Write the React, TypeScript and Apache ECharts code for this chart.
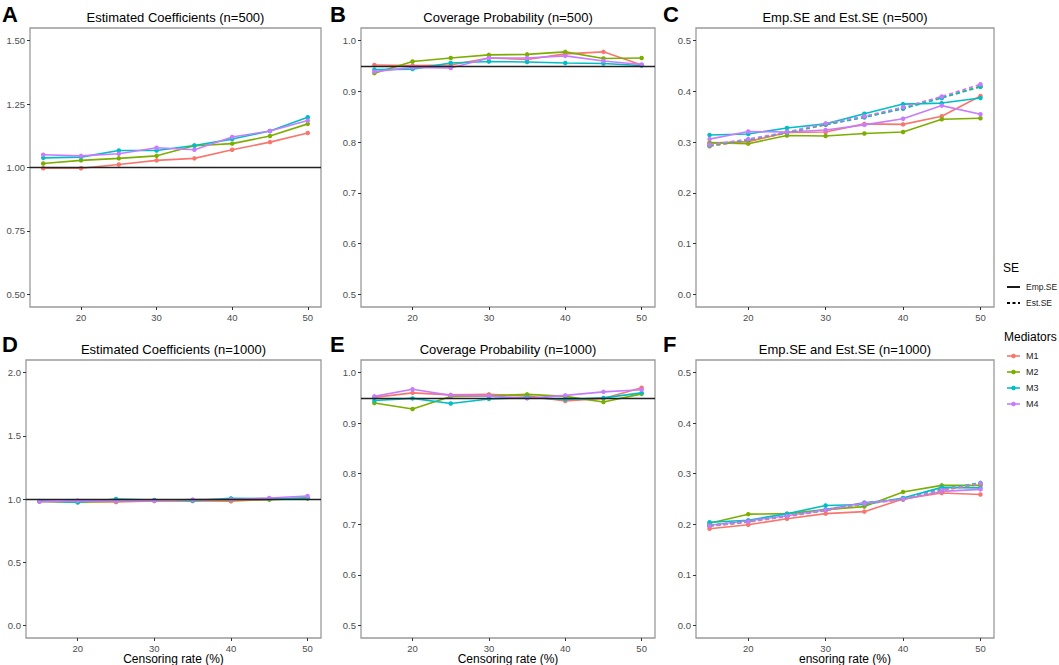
import React, { useEffect, useRef } from "react";
import * as echarts from "echarts";

// ---- data ----
const censoring = [15, 20, 25, 30, 35, 40, 45, 50];
const mediators = ["M1", "M2", "M3", "M4"];
const seTypes = ["Emp.SE", "Est.SE"];

// A: Estimated Coefficients (n=500)
const coefA_M1 = [0.997, 0.997, 1.012, 1.028, 1.036, 1.07, 1.1, 1.136];
const coefA_M2 = [1.016, 1.028, 1.036, 1.046, 1.086, 1.094, 1.124, 1.172];
const coefA_M3 = [1.038, 1.041, 1.067, 1.067, 1.087, 1.112, 1.144, 1.198];
const coefA_M4 = [1.05, 1.046, 1.054, 1.078, 1.07, 1.12, 1.144, 1.185];

// B: Coverage Probability (n=500)
const covB_M1 = [0.952, 0.951, 0.952, 0.966, 0.963, 0.974, 0.978, 0.952];
const covB_M2 = [0.936, 0.959, 0.966, 0.972, 0.973, 0.978, 0.965, 0.966];
const covB_M3 = [0.943, 0.944, 0.956, 0.959, 0.958, 0.956, 0.955, 0.951];
const covB_M4 = [0.939, 0.947, 0.946, 0.966, 0.966, 0.97, 0.96, 0.953];

// C: Emp.SE and Est.SE (n=500)
const empC_M1 = [0.298, 0.301, 0.319, 0.32, 0.336, 0.335, 0.351, 0.391];
const empC_M2 = [0.299, 0.297, 0.313, 0.312, 0.317, 0.32, 0.345, 0.347];
const empC_M3 = [0.314, 0.316, 0.328, 0.336, 0.356, 0.375, 0.377, 0.387];
const empC_M4 = [0.306, 0.321, 0.32, 0.324, 0.334, 0.346, 0.372, 0.355];
const estC_M1 = [0.292, 0.303, 0.318, 0.334, 0.349, 0.366, 0.388, 0.41];
const estC_M2 = [0.293, 0.304, 0.319, 0.335, 0.35, 0.367, 0.388, 0.41];
const estC_M3 = [0.294, 0.305, 0.319, 0.335, 0.349, 0.366, 0.387, 0.409];
const estC_M4 = [0.295, 0.306, 0.32, 0.337, 0.351, 0.369, 0.39, 0.414];

// D: Estimated Coefficients (n=1000)
const coefD_M1 = [0.979, 0.979, 0.976, 0.984, 0.984, 0.982, 0.997, 1.005];
const coefD_M2 = [0.982, 0.974, 0.982, 0.987, 0.989, 0.992, 0.995, 1.005];
const coefD_M3 = [0.984, 0.974, 1.0, 0.992, 0.987, 1.005, 1.003, 1.008];
const coefD_M4 = [0.979, 0.987, 0.984, 0.987, 0.995, 0.997, 1.008, 1.024];

// E: Coverage Probability (n=1000)
const covE_M1 = [0.951, 0.96, 0.956, 0.957, 0.954, 0.944, 0.949, 0.97];
const covE_M2 = [0.94, 0.928, 0.953, 0.954, 0.957, 0.953, 0.942, 0.958];
const covE_M3 = [0.945, 0.949, 0.939, 0.948, 0.951, 0.947, 0.95, 0.96];
const covE_M4 = [0.953, 0.967, 0.955, 0.954, 0.949, 0.955, 0.962, 0.966];

// F: Emp.SE and Est.SE (n=1000)
const empF_M1 = [0.191, 0.199, 0.211, 0.221, 0.225, 0.25, 0.262, 0.259];
const empF_M2 = [0.202, 0.22, 0.221, 0.229, 0.235, 0.264, 0.277, 0.277];
const empF_M3 = [0.204, 0.208, 0.221, 0.237, 0.239, 0.252, 0.273, 0.272];
const empF_M4 = [0.198, 0.207, 0.217, 0.229, 0.243, 0.249, 0.265, 0.269];
const estF_M1 = [0.196, 0.204, 0.215, 0.227, 0.24, 0.249, 0.267, 0.279];
const estF_M2 = [0.197, 0.205, 0.216, 0.228, 0.241, 0.25, 0.268, 0.28];
const estF_M3 = [0.198, 0.206, 0.217, 0.229, 0.242, 0.251, 0.27, 0.282];
const estF_M4 = [0.197, 0.205, 0.216, 0.228, 0.241, 0.25, 0.268, 0.281];

const xTicks = [20, 30, 40, 50];
const yTicksCoef500 = [0.5, 0.75, 1.0, 1.25, 1.5];
const yTicksCov = [0.5, 0.6, 0.7, 0.8, 0.9, 1.0];
const yTicksSE = [0, 0.1, 0.2, 0.3, 0.4, 0.5];
const yTicksCoef1000 = [0, 0.5, 1.0, 1.5, 2.0];

const COLORS = ["#F8766D", "#7CAE00", "#00BFC4", "#C77CFF"];
const FONT = "Liberation Sans";

type Panel = {
  letter: string;
  title: string;
  xName: string;
  grid: { left: number; top: number; width: number; height: number };
  yMin: number;
  yMax: number;
  yTicks: number[];
  decimals: number;
  emp: number[][];
  est?: number[][];
  hline?: number;
  letterPos: [number, number];
};

const panels: Panel[] = [
  {
    letter: "A", title: "Estimated Coefficients (n=500)", xName: "",
    grid: { left: 30, top: 28, width: 291, height: 279 },
    yMin: 0.45, yMax: 1.55, yTicks: yTicksCoef500, decimals: 2,
    emp: [coefA_M1, coefA_M2, coefA_M3, coefA_M4], hline: 1.0, letterPos: [2, 3],
  },
  {
    letter: "B", title: "Coverage Probability (n=500)", xName: "",
    grid: { left: 361, top: 28, width: 294, height: 279 },
    yMin: 0.475, yMax: 1.025, yTicks: yTicksCov, decimals: 1,
    emp: [covB_M1, covB_M2, covB_M3, covB_M4], hline: 0.95, letterPos: [330, 3],
  },
  {
    letter: "C", title: "Emp.SE and Est.SE (n=500)", xName: "",
    grid: { left: 696, top: 28, width: 298, height: 279 },
    yMin: -0.025, yMax: 0.525, yTicks: yTicksSE, decimals: 1,
    emp: [empC_M1, empC_M2, empC_M3, empC_M4],
    est: [estC_M1, estC_M2, estC_M3, estC_M4], letterPos: [663, 3],
  },
  {
    letter: "D", title: "Estimated Coefficients (n=1000)", xName: "Censoring rate (%)",
    grid: { left: 26, top: 360, width: 295, height: 278 },
    yMin: -0.1, yMax: 2.1, yTicks: yTicksCoef1000, decimals: 1,
    emp: [coefD_M1, coefD_M2, coefD_M3, coefD_M4], hline: 1.0, letterPos: [2, 333],
  },
  {
    letter: "E", title: "Coverage Probability (n=1000)", xName: "Censoring rate (%)",
    grid: { left: 361, top: 360, width: 294, height: 278 },
    yMin: 0.475, yMax: 1.025, yTicks: yTicksCov, decimals: 1,
    emp: [covE_M1, covE_M2, covE_M3, covE_M4], hline: 0.95, letterPos: [330, 333],
  },
  {
    letter: "F", title: "Emp.SE and Est.SE (n=1000)", xName: "ensoring rate (%)",
    grid: { left: 696, top: 360, width: 298, height: 278 },
    yMin: -0.025, yMax: 0.525, yTicks: yTicksSE, decimals: 1,
    emp: [empF_M1, empF_M2, empF_M3, empF_M4],
    est: [estF_M1, estF_M2, estF_M3, estF_M4], letterPos: [663, 333],
  },
];

function txt(text: string, x: number, y: number, size: number, opts: any = {}) {
  return {
    type: "text",
    silent: true,
    style: {
      text, x, y,
      fill: opts.fill || "#000",
      fontSize: size,
      fontFamily: FONT,
      fontWeight: opts.bold ? "bold" : "normal",
      textAlign: opts.align || "left",
      align: opts.align || "left",
      textVerticalAlign: opts.valign || "middle",
      verticalAlign: opts.valign || "middle",
    },
  };
}

function buildOption() {
  const grids: any[] = [];
  const xAxes: any[] = [];
  const yAxes: any[] = [];
  const series: any[] = [];
  const graphics: any[] = [];

  panels.forEach((p, gi) => {
    grids.push({ ...p.grid, show: true, borderColor: "#9a9a9a", borderWidth: 1.3, backgroundColor: "#fff", containLabel: false });
    xAxes.push({
      type: "value", gridIndex: gi, min: 13.25, max: 51.75, position: "bottom",
      axisLine: { show: false, onZero: false },
      splitLine: { show: false },
      axisTick: { show: true, customValues: xTicks, length: 3, lineStyle: { color: "#333", width: 1 } },
      axisLabel: { customValues: xTicks, color: "#4D4D4D", fontSize: 9.5, fontFamily: FONT, margin: 5 },
    });
    yAxes.push({
      type: "value", gridIndex: gi, min: p.yMin, max: p.yMax, position: "left",
      axisLine: { show: false, onZero: false },
      splitLine: { show: false },
      axisTick: { show: true, customValues: p.yTicks, length: 3, lineStyle: { color: "#333", width: 1 } },
      axisLabel: {
        customValues: p.yTicks, color: "#4D4D4D", fontSize: 9.5, fontFamily: FONT, margin: 5,
        formatter: (v: number) => v.toFixed(p.decimals),
      },
    });

    const addGroup = (arrs: number[][], dashed: boolean) => {
      arrs.forEach((vals, mi) => {
        series.push({
          type: "line",
          name: mediators[mi] + (dashed ? " " + seTypes[1] : ""),
          xAxisIndex: gi, yAxisIndex: gi,
          data: censoring.map((x, i) => [x, vals[i]]),
          symbol: "circle", symbolSize: 4.5,
          showSymbol: true,
          itemStyle: { color: COLORS[mi] },
          lineStyle: { color: COLORS[mi], width: 1.6, type: dashed ? [4, 3] : "solid" },
          z: 2,
          silent: true,
        });
      });
    };
    addGroup(p.emp, false);
    if (p.est) addGroup(p.est, true);

    if (p.hline !== undefined) {
      series.push({
        type: "line", xAxisIndex: gi, yAxisIndex: gi, data: [], z: 5, silent: true,
        markLine: {
          silent: true, symbol: "none", label: { show: false },
          lineStyle: { color: "#222", width: 1.3, type: "solid" },
          data: [{ yAxis: p.hline }],
        },
      });
    }

    const cx = p.grid.left + p.grid.width / 2;
    graphics.push(txt(p.title, cx, p.grid.top - 10.5, 13, { align: "center" }));
    graphics.push(txt(p.letter, p.letterPos[0], p.letterPos[1] + 11, 22, { bold: true }));
    if (p.xName) {
      graphics.push(txt(p.xName, cx, p.grid.top + p.grid.height + 21, 12, { align: "center" }));
    }
  });

  // SE legend
  graphics.push(txt("SE", 1003, 268, 12));
  seTypes.forEach((s, i) => {
    const y = 287 + i * 16;
    graphics.push({
      type: "line", silent: true,
      shape: { x1: 1007, y1: y, x2: 1020, y2: y },
      style: { stroke: "#000", lineWidth: 1.8, lineDash: i === 1 ? [3, 2.5] : null },
    });
    graphics.push(txt(s, 1026, y, 8.5, { fill: "#222" }));
  });

  // Mediators legend
  graphics.push(txt("Mediators", 1004, 337, 12));
  mediators.forEach((m, i) => {
    const y = 356 + i * 16;
    graphics.push({
      type: "line", silent: true,
      shape: { x1: 1007, y1: y, x2: 1020, y2: y },
      style: { stroke: COLORS[i], lineWidth: 1.6 },
    });
    graphics.push({
      type: "circle", silent: true,
      shape: { cx: 1013.5, cy: y, r: 2.3 },
      style: { fill: COLORS[i] },
    });
    graphics.push(txt(m, 1026, y, 9, { fill: "#222" }));
  });

  return {
    animation: false,
    backgroundColor: "#fff",
    textStyle: { fontFamily: FONT },
    grid: grids,
    xAxis: xAxes,
    yAxis: yAxes,
    series,
    graphic: graphics,
  };
}

export default function App() {
  const ref = useRef<HTMLDivElement>(null);
  useEffect(() => {
    document.body.style.margin = "0";
    if (!ref.current) return;
    const chart = echarts.init(ref.current, undefined, { renderer: "svg" });
    chart.setOption(buildOption() as any);
    return () => chart.dispose();
  }, []);
  return <div ref={ref} style={{ width: 1059, height: 665 }} />;
}
